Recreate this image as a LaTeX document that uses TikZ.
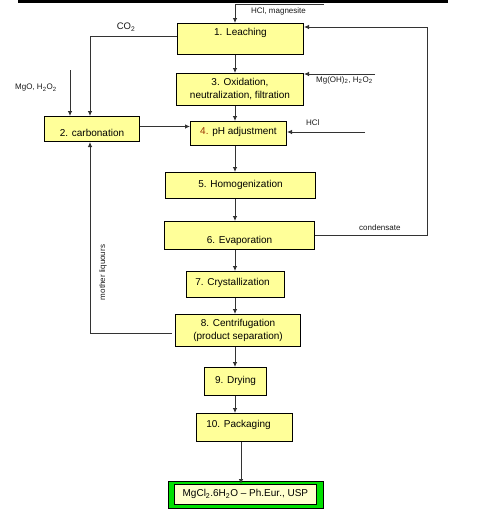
\documentclass[tikz,border=0pt]{standalone}
\usepackage{fontspec}
\setmainfont{Liberation Sans}
\usetikzlibrary{arrows.meta}
\definecolor{boxyellow}{HTML}{FFFF99}
\definecolor{cream}{HTML}{FFFFCC}
\definecolor{brightgreen}{HTML}{00E000}
\definecolor{linegray}{HTML}{333333}
\definecolor{numred}{HTML}{993300}
\tikzset{
  box/.style={draw=black, fill=boxyellow, line width=1pt, inner sep=0pt, anchor=north west, font=\fontsize{10}{13}\selectfont, align=center},
  arr/.style={draw=linegray, line width=0.8pt, -{Latex[length=5pt,width=4.5pt]}},
  conn/.style={draw=linegray, line width=0.8pt},
  lab/.style={inner sep=0pt, font=\fontsize{8}{9}\selectfont, text=black!90},
}
\begin{document}
\begin{tikzpicture}[x=1pt,y=-1pt]
\useasboundingbox (0,0) rectangle (489,509);
% top bar
\fill[black] (18,0) rectangle (448,3);
% boxes
\node[box, minimum width=126pt, text height=12pt, text depth=19pt] (b1) at (177,23) {1. Leaching};
\node[box, minimum width=127pt, minimum height=32pt] (b3) at (176,73) {3. Oxidation,\\neutralization, filtration};
\node[box, minimum width=95pt, text height=20pt, text depth=5pt] (b2) at (44,116) {2. carbonation};
\node[box, minimum width=96pt, text height=13pt, text depth=11pt] (b4) at (190,121) {\textcolor{numred}{4.} pH adjustment};
\node[box, minimum width=150pt, text height=15pt, text depth=11pt] (b5) at (165,172) {5. Homogenization};
\node[box, minimum width=150pt, text height=22pt, text depth=6pt] (b6) at (164,221) {6. Evaporation};
\node[box, minimum width=98pt, text height=14pt, text depth=12pt] (b7) at (186,271) {7. Crystallization\hspace{6pt}};
\node[box, minimum width=125pt, minimum height=32pt] (b8) at (175,314) {8. Centrifugation\\(product separation)};
\node[box, minimum width=62pt, text height=16pt, text depth=12pt] (b9) at (204,367) {9. Drying};
\node[box, minimum width=96pt, text height=14pt, text depth=14pt] (b10) at (196,413) {10. Packaging\hspace{12pt}};
\node[draw=black, fill=brightgreen, line width=1pt, inner sep=0pt, anchor=north west, minimum width=155pt, minimum height=27pt] (fin) at (168,481) {};
\node[draw=black, fill=cream, line width=0.8pt, inner sep=0pt, anchor=north west, minimum width=142pt, minimum height=20pt, font=\fontsize{10}{12}\selectfont] (fint) at (174,484) {MgCl\textsubscript{2}.6H\textsubscript{2}O -- Ph.Eur., USP};
% coordinates
\coordinate (spine) at (235,0);
\coordinate (hm) at (324,4.3);
\coordinate (mgo) at (70,70);
\coordinate (mgoh) at (375,74);
\coordinate (hcl) at (365,132);
\coordinate (cr) at (427,27);
\coordinate (pk) at (241,0);
% main flow
\draw[arr] (hm) -| (spine |- b1.north);
\draw[arr] (spine |- b1.south) -- (spine |- b3.north);
\draw[arr] (spine |- b3.south) -- (spine |- b4.north);
\draw[arr] (spine |- b4.south) -- (spine |- b5.north);
\draw[arr] (spine |- b5.south) -- (spine |- b6.north);
\draw[arr] (spine |- b6.south) -- (spine |- b7.north);
\draw[arr] (spine |- b7.south) -- (spine |- b8.north);
\draw[arr] (spine |- b8.south) -- (spine |- b9.north);
\draw[arr] (spine |- b9.south) -- (spine |- b10.north);
\draw[arr] (pk |- b10.south) -- (pk |- fint.north);
% side streams
\draw[arr] ([yshift=2.5pt]b1.west) -| ([xshift=-2pt]b2.north);
\draw[arr] (mgo) -- (mgo |- b2.north);
\draw[arr] (mgoh) -- (mgoh -| b3.east);
\draw[arr] ([yshift=2.5pt]b2.east) -- ([yshift=2.5pt]b2.east -| b4.west);
\draw[arr] (hcl) -- (hcl -| b4.east);
\draw[arr] (b6.east) -| (cr) -- (cr -| b1.east);
\draw[arr] ([xshift=-3pt,yshift=-3pt]b8.west) -| ([xshift=-2pt]b2.south);
% labels
\node[lab, anchor=west] (lhm) at (251,11) {HCl, magnesite};
\node[lab, font=\fontsize{9.5}{10}\selectfont, anchor=center] (lco2) at (126,27) {CO\textsubscript{2}};
\node[lab, anchor=west] (lmgo) at (15,88) {MgO, H\textsubscript{2}O\textsubscript{2}};
\node[lab, anchor=west] (lmgoh) at (316,80) {Mg(OH)\textsubscript{2}, H\textsubscript{2}O\textsubscript{2}};
\node[lab, anchor=west] (lhcl) at (306,123) {HCl};
\node[lab, anchor=west] (lcond) at (359,228) {condensate};
\node[lab, rotate=90] (lml) at (103,272.5) {mother liquours};
\end{tikzpicture}
\end{document}
